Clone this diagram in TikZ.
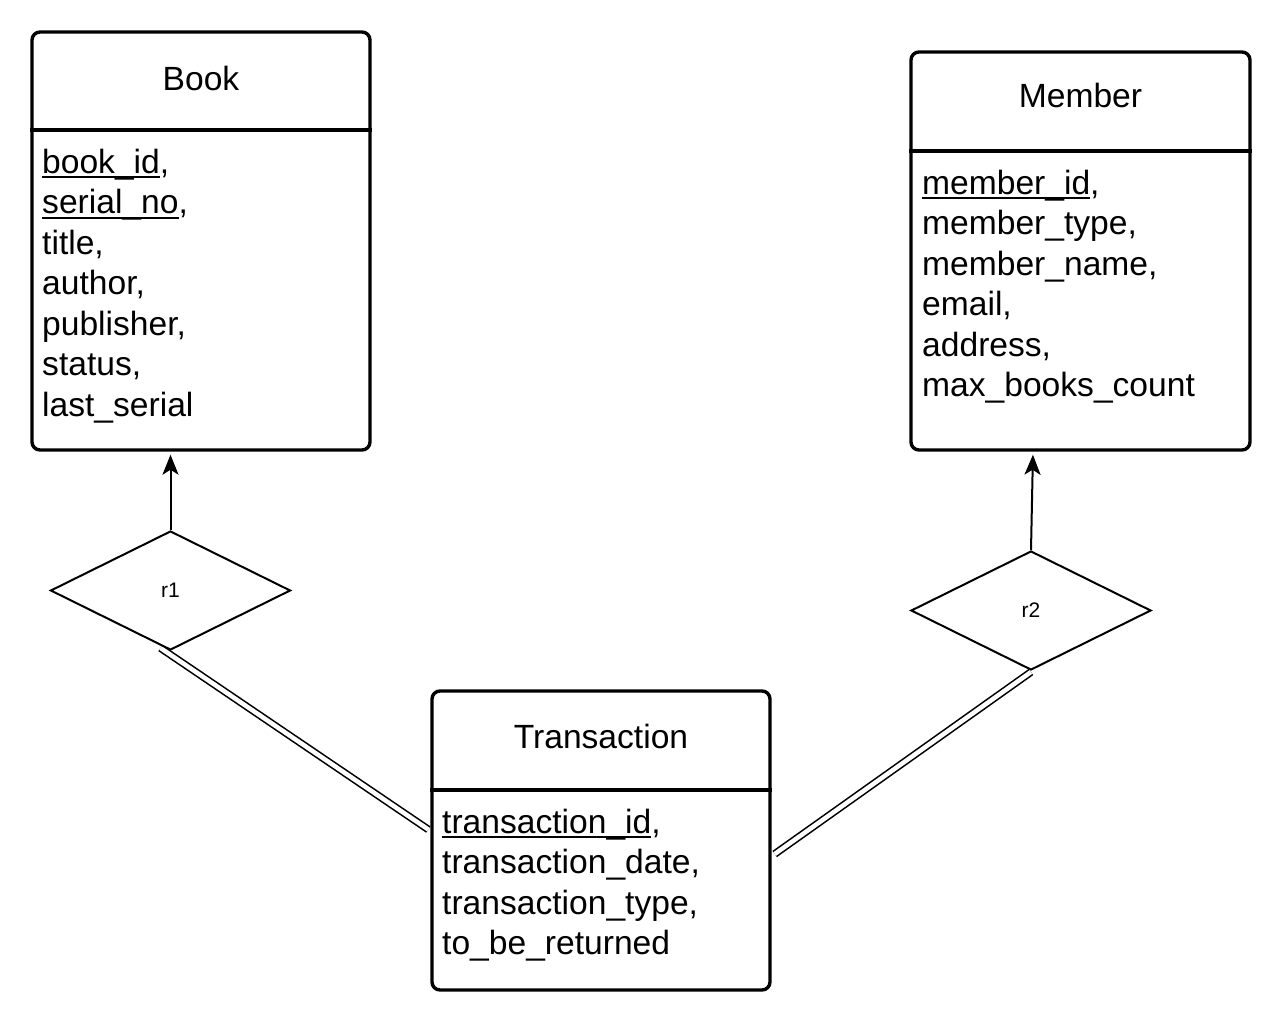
\documentclass[tikz,border=0pt]{standalone}
\usepackage{fontspec}
\setmainfont{Liberation Sans}
\usetikzlibrary{shapes.geometric,arrows.meta}
\pgfdeclarelayer{bg}
\pgfsetlayers{bg,main}
\newcommand\erfont{\fontsize{33.6}{40.5}\selectfont}
\newcommand\relfont{\fontsize{21}{25}\selectfont}
\newcommand\keyul[1]{\setbox0\hbox{#1}\rlap{\rule[-5pt]{\wd0}{2pt}}\box0}
\begin{document}
\begin{tikzpicture}[x=1pt,y=-1pt,
  entity/.style={draw, fill=white, line width=3.4pt, rounded corners=8pt, inner sep=0pt},
  title/.style={anchor=base, inner sep=0pt, font=\erfont},
  attr/.style={anchor=base west, inner sep=0pt, font=\erfont},
  rel/.style={draw, fill=white, diamond, line width=2pt, minimum width=240pt, minimum height=119pt, inner sep=0pt, font=\relfont},
  total/.style={double, line width=1.6pt, double distance=4.5pt},
  link/.style={line width=2pt, -{Stealth[length=20pt,width=16pt,inset=5pt]}, shorten >=3pt}
]
\useasboundingbox (0,0) rectangle (1280,1020);

% Book
\node[entity, minimum width=338pt, minimum height=418pt] (book) at (201,241) {};
\draw[line width=3.4pt] (book.west |- 0,130) -- (book.east |- 0,130);
\node[title] (bookT) at (201,90.5) {Book};
\node[attr] (b1) at (42,173) {\keyul{book\_id},};
\node[attr] (b2) at (42,213.5) {\keyul{serial\_no},};
\node[attr] (b3) at (42,254) {title,};
\node[attr] (b4) at (42,294.5) {author,};
\node[attr] (b5) at (42,335) {publisher,};
\node[attr] (b6) at (42,375.5) {status,};
\node[attr] (b7) at (42,416) {last\_serial};

% Member
\node[entity, minimum width=339pt, minimum height=398pt] (member) at (1080.5,251) {};
\draw[line width=3.4pt] (member.west |- 0,151) -- (member.east |- 0,151);
\node[title] (memberT) at (1080.5,107.5) {Member};
\node[attr] (m1) at (922,194) {\keyul{member\_id},};
\node[attr] (m2) at (922,234.5) {member\_type,};
\node[attr] (m3) at (922,275) {member\_name,};
\node[attr] (m4) at (922,315.5) {email,};
\node[attr] (m5) at (922,356) {address,};
\node[attr] (m6) at (922,396.5) {max\_books\_count};

% Transaction
\node[entity, minimum width=338pt, minimum height=299pt] (trans) at (601,840.5) {};
\draw[line width=3.4pt] (trans.west |- 0,790) -- (trans.east |- 0,790);
\node[title] (transT) at (601,748) {Transaction};
\node[attr] (t1) at (442,833) {\keyul{transaction\_id},};
\node[attr] (t2) at (442,873.5) {transaction\_date,};
\node[attr] (t3) at (442,914) {transaction\_type,};
\node[attr] (t4) at (442,954.5) {to\_be\_returned};

% Relationships
\node[rel] (r1) at (170.5,590.5) {r1};
\node[rel] (r2) at (1031,610.5) {r2};

\begin{pgfonlayer}{bg}
\fill[white] (0,0) rectangle (1280,1020);
\draw[link] (r1.north) -- (r1.north |- book.south);
\draw[link] (r2.north) -- ([xshift=2pt]r2.north |- member.south);
\draw[total] ([shift={(-10,-3)}]r1.south) -- ([shift={(-2,-11)}]trans.west);
\draw[total] ([shift={(0,1)}]r2.south) -- ([shift={(3,13.5)}]trans.east);
\end{pgfonlayer}
\end{tikzpicture}
\end{document}
